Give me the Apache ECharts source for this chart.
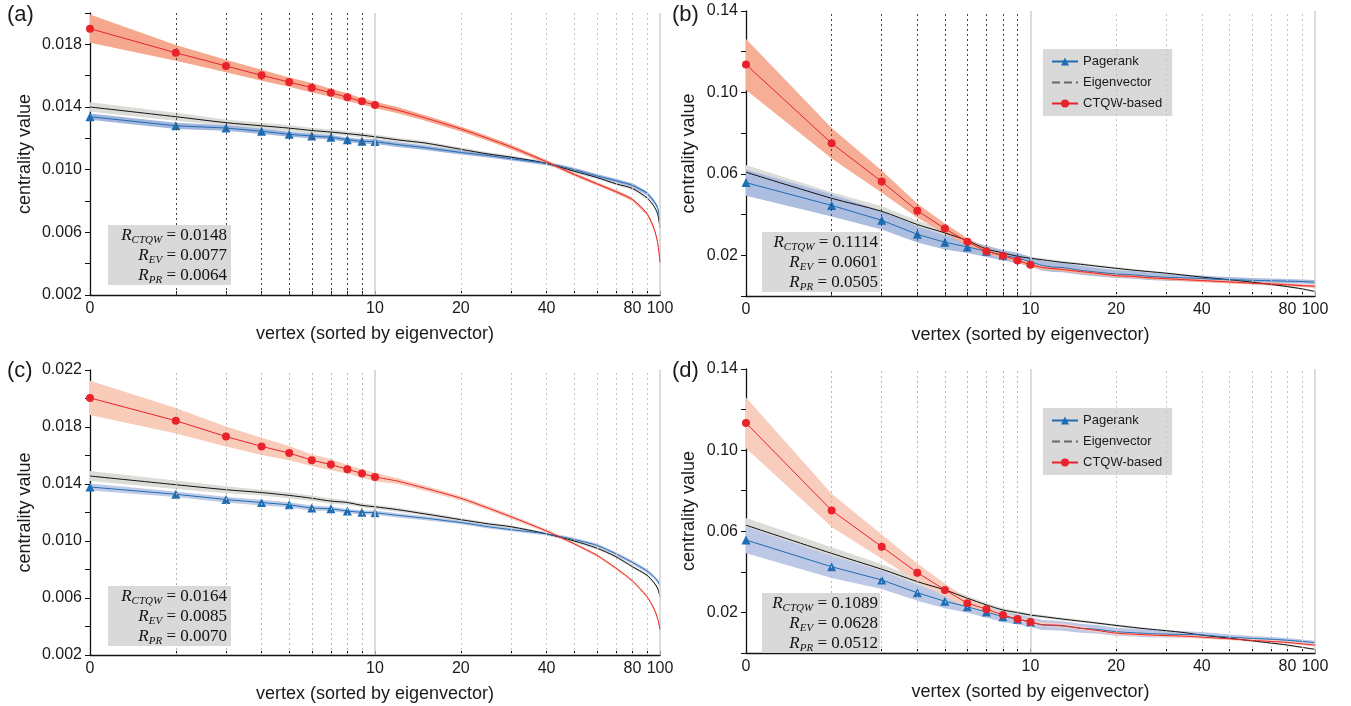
<!DOCTYPE html>
<html>
<head>
<meta charset="utf-8">
<script src="https://cdn.jsdelivr.net/npm/echarts@6/dist/echarts.min.js"></script>
<style>
  html, body { margin: 0; padding: 0; background: #fff; }
  #chart { width: 1351px; height: 706px; }
</style>
</head>
<body>
<div id="chart"></div>
<script>
// x positions (vertex index on a log axis, label "0" sits at 1)
var markX = [1, 2, 3, 4, 5, 6, 7, 8, 9, 10];
var tailXAC = [10, 12, 15, 20, 25, 30, 40, 50, 60, 70, 80, 90, 95, 98, 100];
var tailXBD = [10, 11, 12, 13, 15, 17, 20, 23, 26, 30, 35, 40, 45, 50, 55, 60, 70, 80, 90, 100];
var xTicks = [1, 2, 3, 4, 5, 6, 7, 8, 9, 10, 20, 30, 40, 50, 60, 70, 80, 90, 100];
var xLabels = [1, 10, 20, 40, 80, 100];
var gridDotted = [2, 3, 4, 5, 6, 7, 8, 9];
var gridLight = [20, 30, 40, 50, 60, 70, 80, 90];
var gridSolid = [10, 100];

// panel (a)
var redA = [0.0190, 0.01746, 0.01662, 0.01602, 0.01559, 0.01523, 0.01491, 0.01462, 0.01436, 0.01413];
var redTailA = [0.01413, 0.0138, 0.0133, 0.0126, 0.01198, 0.01145, 0.0105, 0.0097, 0.0091, 0.0086, 0.0081, 0.0072, 0.0063, 0.0054, 0.0041];
var redSpreadA = [0.0009, 0.0005, 0.0004, 0.00035, 0.0003, 0.0003, 0.00025, 0.00025, 0.0002, 0.0002];
var blackA = [0.0140, 0.01338, 0.0130, 0.0128, 0.01265, 0.0125, 0.0124, 0.0123, 0.0122, 0.0121];
var blackTailA = [0.0121, 0.0119, 0.0117, 0.0113, 0.0110, 0.0108, 0.0104, 0.0099, 0.0095, 0.0091, 0.0088, 0.0082, 0.0077, 0.0072, 0.0063];
var blackSpreadA = [0.0003, 0.00025, 0.0002, 0.0002, 0.0002, 0.00018, 0.00016, 0.00015, 0.00015, 0.00015];
var blueA = [0.01338, 0.0128, 0.01266, 0.01245, 0.01226, 0.01215, 0.01207, 0.01191, 0.01181, 0.01179];
var blueTailA = [0.01179, 0.0116, 0.0114, 0.0111, 0.0109, 0.0107, 0.0104, 0.0100, 0.0096, 0.0093, 0.0090, 0.0085, 0.0080, 0.0076, 0.0068];
var blueSpreadA = [0.0002, 0.0002, 0.00018, 0.00018, 0.00016, 0.00016, 0.00015, 0.00015, 0.00015, 0.00015];

// panel (c)
var redC = [0.02004, 0.01844, 0.01733, 0.01664, 0.01617, 0.01567, 0.01536, 0.01504, 0.01474, 0.01449];
var redTailC = [0.01449, 0.0142, 0.0137, 0.0130, 0.0123, 0.0117, 0.0107, 0.0098, 0.0090, 0.0081, 0.0072, 0.0061, 0.0053, 0.0046, 0.0038];
var redSpreadC = [0.0012, 0.0009, 0.0007, 0.0006, 0.0005, 0.0004, 0.0004, 0.0003, 0.0003, 0.0003];
var blackC = [0.01456, 0.01395, 0.0136, 0.0134, 0.0132, 0.0130, 0.0128, 0.0127, 0.0125, 0.0124];
var blackTailC = [0.0124, 0.0122, 0.0119, 0.0115, 0.0112, 0.0110, 0.0105, 0.0100, 0.0095, 0.0089, 0.0082, 0.0076, 0.0071, 0.0067, 0.0061];
var blackSpreadC = [0.00035, 0.0003, 0.00025, 0.0002, 0.0002, 0.0002, 0.00018, 0.00016, 0.00015, 0.00015];
var blueC = [0.01379, 0.01328, 0.01291, 0.0127, 0.01254, 0.01231, 0.01226, 0.0121, 0.01201, 0.01199];
var blueTailC = [0.01199, 0.0118, 0.0116, 0.0113, 0.0110, 0.0108, 0.0105, 0.0101, 0.0097, 0.0091, 0.0085, 0.0079, 0.0075, 0.0072, 0.0069];
var blueSpreadC = [0.00025, 0.0002, 0.0002, 0.0002, 0.00018, 0.00018, 0.00016, 0.00015, 0.00015, 0.00015];

// tail band widths, panels (a) and (c)
var redTailSpreadAC = [0.0002, 0.0002, 0.00018, 0.00016, 0.00015, 0.00014, 0.00012, 0.0001, 0.0001, 0.0001, 0.0001, 0.0001, 0.0001, 0.0001, 0.0001];
var blackTailSpreadAC = [0.00015, 0.00014, 0.00013, 0.00012, 0.00011, 0.0001, 0.0001, 0.0001, 0.0001, 0.0001, 0.0001, 0.0001, 0.0001, 0.0001, 0.0001];
var blueTailSpreadAC = [0.00015, 0.00015, 0.00014, 0.00013, 0.00012, 0.00012, 0.00012, 0.00012, 0.00012, 0.00012, 0.00013, 0.00013, 0.00013, 0.00013, 0.00013];

// panel (b)
var redB = [0.1137, 0.0750, 0.0562, 0.0419, 0.0331, 0.0266, 0.0220, 0.0198, 0.0175, 0.0154];
var redTailB = [0.0154, 0.0140, 0.0135, 0.0130, 0.0120, 0.0112, 0.0100, 0.0096, 0.0090, 0.0085, 0.0080, 0.0076, 0.0072, 0.0069, 0.0066, 0.0063, 0.0059, 0.0055, 0.0051, 0.0048];
var redSpreadB = [0.0125, 0.0075, 0.0055, 0.0035, 0.0025, 0.0018, 0.0015, 0.0012, 0.0010, 0.0010];
var blackB = [0.0608, 0.0480, 0.0416, 0.0351, 0.0310, 0.0272, 0.0231, 0.0212, 0.0195, 0.0185];
var blackTailB = [0.0185, 0.0178, 0.0171, 0.0165, 0.0156, 0.0147, 0.0136, 0.0127, 0.0120, 0.0112, 0.0102, 0.0093, 0.0086, 0.0080, 0.0074, 0.0068, 0.0057, 0.0046, 0.0035, 0.0022];
var blackSpreadB = [0.0035, 0.0030, 0.0025, 0.0020, 0.0015, 0.0012, 0.0010, 0.0008, 0.0008, 0.0008];
var blueB = [0.0557, 0.0445, 0.0372, 0.0303, 0.0264, 0.0241, 0.0220, 0.0200, 0.0187, 0.0168];
var blueTailB = [0.0168, 0.0150, 0.0142, 0.0140, 0.0126, 0.0118, 0.0108, 0.0104, 0.0097, 0.0092, 0.0089, 0.0086, 0.0082, 0.0080, 0.0079, 0.0077, 0.0075, 0.0073, 0.0071, 0.0068];
var blueSpreadB = [0.0065, 0.0055, 0.0045, 0.0040, 0.0035, 0.0030, 0.0028, 0.0026, 0.0025, 0.0025];

// panel (d)
var redD = [0.1134, 0.0703, 0.0524, 0.0396, 0.0311, 0.0245, 0.0216, 0.0187, 0.0168, 0.0153];
var redTailD = [0.0153, 0.0140, 0.0138, 0.0135, 0.0122, 0.0112, 0.0098, 0.0093, 0.0089, 0.0086, 0.0083, 0.0078, 0.0074, 0.0070, 0.0066, 0.0062, 0.0057, 0.0052, 0.0045, 0.0039];
var redSpreadD = [0.0125, 0.0082, 0.0060, 0.0045, 0.0032, 0.0022, 0.0016, 0.0012, 0.0010, 0.0010];
var blackD = [0.0630, 0.0491, 0.0413, 0.0352, 0.0311, 0.0270, 0.0237, 0.0212, 0.0199, 0.0187];
var blackTailD = [0.0187, 0.0180, 0.0173, 0.0167, 0.0157, 0.0148, 0.0136, 0.0126, 0.0118, 0.0110, 0.0100, 0.0088, 0.0080, 0.0073, 0.0066, 0.0060, 0.0049, 0.0039, 0.0028, 0.0018];
var blackSpreadD = [0.0035, 0.0030, 0.0025, 0.0020, 0.0015, 0.0012, 0.0010, 0.0008, 0.0008, 0.0008];
var blueD = [0.0557, 0.0425, 0.0360, 0.0297, 0.0255, 0.0228, 0.0202, 0.0179, 0.0166, 0.0153];
var blueTailD = [0.0153, 0.0138, 0.0136, 0.0133, 0.0122, 0.0117, 0.0105, 0.0100, 0.0096, 0.0093, 0.0091, 0.0089, 0.0083, 0.0078, 0.0075, 0.0072, 0.0068, 0.0063, 0.0057, 0.0051];
var blueSpreadD = [0.0065, 0.0055, 0.0045, 0.0040, 0.0035, 0.0030, 0.0028, 0.0026, 0.0025, 0.0025];

// tail band widths, panels (b) and (d)
var redTailSpreadBD = [0.0010, 0.0010, 0.0010, 0.0010, 0.0009, 0.0009, 0.0009, 0.0008, 0.0008, 0.0008, 0.0008, 0.0008, 0.0007, 0.0007, 0.0007, 0.0007, 0.0007, 0.0007, 0.0007, 0.0007];
var blackTailSpreadBD = [0.0008, 0.0008, 0.0007, 0.0007, 0.0007, 0.0006, 0.0006, 0.0006, 0.0005, 0.0005, 0.0005, 0.0005, 0.0005, 0.0004, 0.0004, 0.0004, 0.0004, 0.0004, 0.0004, 0.0004];
var blueTailSpreadBD = [0.0025, 0.0025, 0.0024, 0.0023, 0.0022, 0.0021, 0.0020, 0.0019, 0.0018, 0.0017, 0.0016, 0.0015, 0.0014, 0.0013, 0.0012, 0.0012, 0.0011, 0.0011, 0.0010, 0.0010];

var rTexts = [
  ['0.0148', '0.0077', '0.0064'],
  ['0.1114', '0.0601', '0.0505'],
  ['0.0164', '0.0085', '0.0070'],
  ['0.1089', '0.0628', '0.0512']
];

var font = '"Liberation Sans", Arial, Helvetica, sans-serif';
var RED = '#e8232b', BLUE = '#1f6db3', BLACK = '#111111';

var panels = [
  { grid: { left: 90, top: 13, width: 570, height: 282 }, y: [0.002, 0.020, 0.002], dark: true, nameGap: 56,
    tailX: tailXAC, red: [redA, redTailA, redSpreadA, redTailSpreadAC], black: [blackA, blackTailA, blackSpreadA, blackTailSpreadAC],
    blue: [blueA, blueTailA, blueSpreadA, blueTailSpreadAC], redBand: '#f6a88e', blueBand: '#a2b5dc' },
  { grid: { left: 746, top: 11, width: 569, height: 285 }, y: [0, 0.14, 0.02], dark: true, nameGap: 48,
    tailX: tailXBD, red: [redB, redTailB, redSpreadB, redTailSpreadBD], black: [blackB, blackTailB, blackSpreadB, blackTailSpreadBD],
    blue: [blueB, blueTailB, blueSpreadB, blueTailSpreadBD], redBand: '#f7ae97', blueBand: '#adbde0' },
  { grid: { left: 90, top: 370, width: 570, height: 285 }, y: [0.002, 0.022, 0.002], dark: false, nameGap: 56,
    tailX: tailXAC, red: [redC, redTailC, redSpreadC, redTailSpreadAC], black: [blackC, blackTailC, blackSpreadC, blackTailSpreadAC],
    blue: [blueC, blueTailC, blueSpreadC, blueTailSpreadAC], redBand: '#f9cbb9', blueBand: '#bfcbe6' },
  { grid: { left: 746, top: 369, width: 569, height: 284 }, y: [0, 0.14, 0.02], dark: false, nameGap: 48,
    tailX: tailXBD, red: [redD, redTailD, redSpreadD, redTailSpreadBD], black: [blackD, blackTailD, blackSpreadD, blackTailSpreadBD],
    blue: [blueD, blueTailD, blueSpreadD, blueTailSpreadBD], redBand: '#f9cdbd', blueBand: '#bcc8e6' }
];

function join(a, b) {
  return a.concat(b.slice(1));
}

function pairs(xs, ys) {
  return xs.map(function (x, i) { return [x, ys[i]]; });
}

function bandSeries(gi, xs, ys, sp, color) {
  var data = xs.map(function (x, i) { return [x, ys[i] - sp[i], ys[i] + sp[i]]; });
  return {
    type: 'custom', xAxisIndex: gi, yAxisIndex: gi, z: 1, silent: true,
    encode: { x: 0, y: [1, 2] },
    data: data,
    renderItem: function (params, api) {
      if (params.dataIndex !== 0) return null;
      var top = data.map(function (d) { return api.coord([d[0], d[2]]); });
      var bottom = data.map(function (d) { return api.coord([d[0], d[1]]); }).reverse();
      return { type: 'polygon', shape: { points: top.concat(bottom) }, style: { fill: color } };
    }
  };
}

function gridLines(p) {
  var out = [];
  gridDotted.forEach(function (v) {
    out.push({ xAxis: v, lineStyle: { color: p.dark ? '#444' : '#b8b8b8', type: [2, 3], width: 1 } });
  });
  gridLight.forEach(function (v) {
    out.push({ xAxis: v, lineStyle: { color: '#c4c4c4', type: [2, 3], width: 1 } });
  });
  gridSolid.forEach(function (v) {
    out.push({ xAxis: v, lineStyle: { color: '#cfcfcf', type: 'solid', width: 1.5 } });
  });
  return out;
}

var grids = [], xAxes = [], yAxes = [], series = [], graphics = [];

panels.forEach(function (p, gi) {
  grids.push(p.grid);
  xAxes.push({
    type: 'log', gridIndex: gi, min: 1, max: 100, logBase: 10,
    axisLine: { lineStyle: { color: BLACK, width: 1.3 } },
    axisTick: { show: true, inside: true, length: 4, customValues: xTicks, lineStyle: { color: BLACK } },
    axisLabel: {
      customValues: xLabels, fontSize: 16, color: '#1a1a1a', fontFamily: font, margin: 6,
      formatter: function (v) { var r = Math.round(v); return r === 1 ? '0' : String(r); }
    },
    splitLine: { show: false }, minorTick: { show: false }, minorSplitLine: { show: false },
    name: 'vertex (sorted by eigenvector)', nameLocation: 'middle', nameGap: 30,
    nameTextStyle: { fontSize: 18, color: '#1a1a1a', fontFamily: font }
  });
  var step = p.y[2];
  yAxes.push({
    type: 'value', gridIndex: gi, min: p.y[0], max: p.y[1], interval: step,
    axisLine: { show: true, lineStyle: { color: BLACK, width: 1.3 } },
    axisTick: { show: true, inside: false, length: 5, lineStyle: { color: BLACK } },
    axisLabel: {
      fontSize: 16, color: '#1a1a1a', fontFamily: font, margin: 8,
      formatter: function (v) {
        var k = Math.round(v / step);
        if (k % 2 !== 1) return '';
        return step < 0.01 ? v.toFixed(3) : v.toFixed(2);
      }
    },
    splitLine: { show: false },
    name: 'centrality value', nameLocation: 'middle', nameGap: p.nameGap, nameRotate: 90,
    nameTextStyle: { fontSize: 18, color: '#1a1a1a', fontFamily: font }
  });

  var xs = join(markX, p.tailX);
  series.push(bandSeries(gi, xs, join(p.black[0], p.black[1]), join(p.black[2], p.black[3]), '#dcdcd8'));
  series.push(bandSeries(gi, xs, join(p.blue[0], p.blue[1]), join(p.blue[2], p.blue[3]), p.blueBand));
  series.push(bandSeries(gi, xs, join(p.red[0], p.red[1]), join(p.red[2], p.red[3]), p.redBand));

  series.push({
    name: 'Eigenvector', type: 'line', xAxisIndex: gi, yAxisIndex: gi, z: 3,
    data: pairs(xs, join(p.black[0], p.black[1])), smooth: 0.3, symbol: 'none',
    lineStyle: { color: BLACK, width: 1 }, itemStyle: { color: BLACK },
    markLine: {
      silent: true, symbol: ['none', 'none'], label: { show: false }, animation: false,
      data: gridLines(p)
    }
  });
  series.push({
    name: 'Pagerank', type: 'line', xAxisIndex: gi, yAxisIndex: gi, z: 4,
    data: pairs(markX, p.blue[0]), symbol: 'triangle', symbolSize: 9, showSymbol: true,
    lineStyle: { color: BLUE, width: 1 }, itemStyle: { color: BLUE }
  });
  series.push({
    name: 'Pagerank tail', type: 'line', xAxisIndex: gi, yAxisIndex: gi, z: 4,
    data: pairs(p.tailX, p.blue[1]), smooth: 0.2, symbol: 'none',
    lineStyle: { color: BLUE, width: 1 }
  });
  series.push({
    name: 'CTQW-based', type: 'line', xAxisIndex: gi, yAxisIndex: gi, z: 5,
    data: pairs(markX, p.red[0]), symbol: 'circle', symbolSize: 8, showSymbol: true,
    lineStyle: { color: RED, width: 1 }, itemStyle: { color: RED }
  });
  series.push({
    name: 'CTQW-based tail', type: 'line', xAxisIndex: gi, yAxisIndex: gi, z: 5,
    data: pairs(p.tailX, p.red[1]), smooth: 0.3, symbol: 'none',
    lineStyle: { color: RED, width: 1 }
  });

  // R value box
  var left = gi % 2 === 0;
  var bx = left ? 108 : 762, by = (gi < 2 ? 225 : 586) + (left ? 0 : 7);
  graphics.push({
    type: 'rect', left: bx, top: by, z: 10,
    shape: { width: left ? 123 : 118, height: 60 },
    style: { fill: '#d9d9d9' }
  });
  var t = rTexts[gi];
  graphics.push({
    type: 'text', x: bx + (left ? 119 : 116), y: by + 1, z: 11,
    style: {
      text: '{r|R}{s|CTQW}{e| = ' + t[0] + '}\n{r|R}{s|EV}{e| = ' + t[1] + '}\n{r|R}{s|PR}{e| = ' + t[2] + '}',
      align: 'right', verticalAlign: 'top',
      rich: {
        r: { fontFamily: '"Liberation Serif", serif', fontStyle: 'italic', fontSize: 17, lineHeight: 20, verticalAlign: 'middle', fill: '#111' },
        s: { fontFamily: '"Liberation Serif", serif', fontStyle: 'italic', fontSize: 11, lineHeight: 11, verticalAlign: 'bottom', fill: '#111' },
        e: { fontFamily: '"Liberation Serif", serif', fontSize: 17, lineHeight: 20, verticalAlign: 'middle', fill: '#111' }
      }
    }
  });
});

['(a)', '(b)', '(c)', '(d)'].forEach(function (s, i) {
  graphics.push({
    type: 'text', left: i % 2 === 0 ? 7 : 672, top: i < 2 ? 4 : 360, z: 11,
    style: { text: s, fontSize: 22, fontFamily: font, fill: '#1a1a1a' }
  });
});

function legendAt(top) {
  return {
    orient: 'vertical', left: 1043, top: top, backgroundColor: '#d9d9d9',
    padding: [6, 10, 6, 8], itemGap: 8, itemWidth: 26, itemHeight: 10,
    textStyle: { fontSize: 13, fontFamily: font, color: '#1a1a1a' },
    selectedMode: false,
    data: [
      { name: 'Pagerank', lineStyle: { width: 2 } },
      { name: 'Eigenvector', lineStyle: { type: 'dashed', color: '#666', width: 2 },
        itemStyle: { color: 'rgba(0,0,0,0)', borderWidth: 0, opacity: 0 } },
      { name: 'CTQW-based', lineStyle: { width: 2 } }
    ]
  };
}

var chart = echarts.init(document.getElementById('chart'));
chart.setOption({
  animation: false,
  textStyle: { fontFamily: font },
  grid: grids,
  xAxis: xAxes,
  yAxis: yAxes,
  legend: [legendAt(49), legendAt(408)],
  graphic: graphics,
  series: series
});
</script>
</body>
</html>
